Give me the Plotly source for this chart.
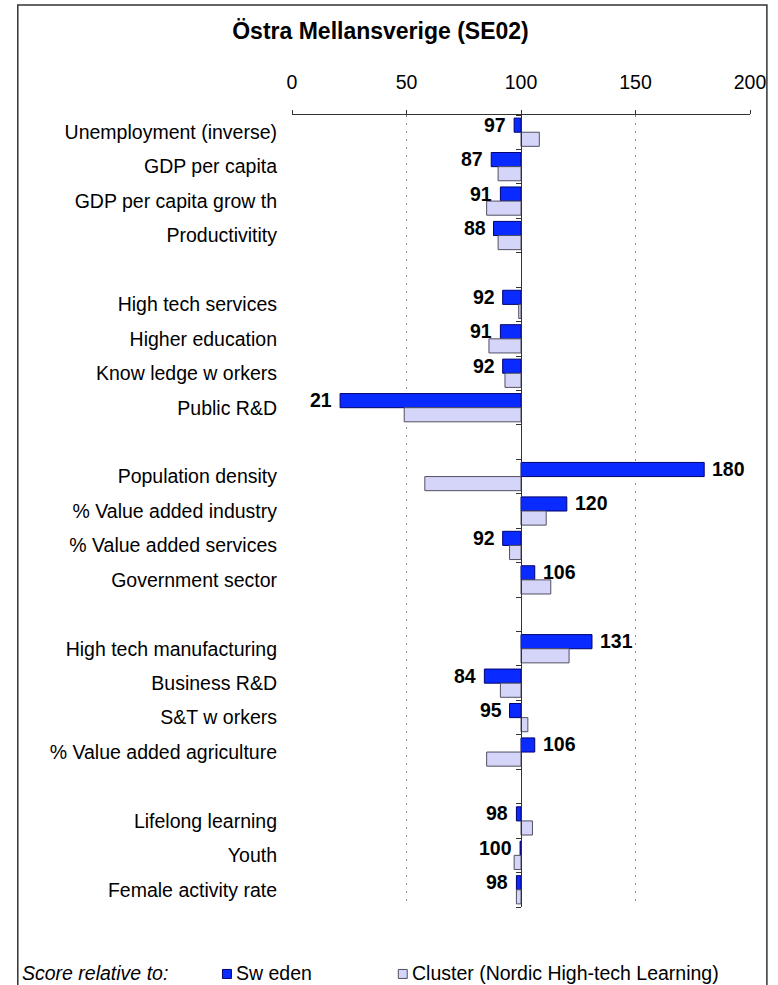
import plotly.graph_objects as go

# ---------------- data ----------------
title_text = "Östra Mellansverige (SE02)"
groups = [
    ["Unemployment (inverse)", "GDP per capita", "GDP per capita grow th", "Productivitity"],
    ["High tech services", "Higher education", "Know ledge w orkers", "Public R&D"],
    ["Population density", "% Value added industry", "% Value added services", "Government sector"],
    ["High tech manufacturing", "Business R&D", "S&T w orkers", "% Value added agriculture"],
    ["Lifelong learning", "Youth", "Female activity rate"],
]
sweden = [97, 87, 91, 88,
          92, 91, 92, 21,
          180, 120, 92, 106,
          131, 84, 95, 106,
          98, 99.6, 98]
cluster = [108, 90, 85, 90,
           99, 86, 93, 49,
           58, 111, 95, 113,
           121, 91, 103, 85,
           105, 97, 98]
x_ticks = [0, 50, 100, 150, 200]
series_names = ["Sw eden", "Cluster (Nordic High-tech Learning)"]
legend_title = "Score relative to:"
baseline = 100

# ---------------- layout helpers ----------------
categories, positions = [], []
slot = 0
for gi, g in enumerate(groups):
    for name in g:
        categories.append(name)
        positions.append(slot)
        slot += 1
    if gi < len(groups) - 1:
        slot += 1  # empty separator slot
n_slots = slot
boundaries = [i - 0.5 for i in range(n_slots + 1)]

W, H = 778, 985
ml, mr, mt, mb = 292, 25, 115, 77.5
pw, ph = W - ml - mr, H - mt - mb

def px_x(px):
    return (px - ml) / pw

def px_y(py):
    return (H - mb - py) / ph

FONT = "Liberation Sans, Arial, sans-serif"
FS = 19.5
SWE_FILL, SWE_LINE = "#0A2BFF", "#000070"
CL_FILL, CL_LINE = "#D5D5FA", "#505062"

fig = go.Figure()
fig.add_trace(go.Bar(
    y=positions, x=[v - baseline for v in sweden], base=baseline,
    orientation="h", name=series_names[0],
    marker=dict(color=SWE_FILL, line=dict(color=SWE_LINE, width=1)),
    showlegend=False, hoverinfo="skip"))
fig.add_trace(go.Bar(
    y=positions, x=[v - baseline for v in cluster], base=baseline,
    orientation="h", name=series_names[1],
    marker=dict(color=CL_FILL, line=dict(color=CL_LINE, width=1)),
    showlegend=False, hoverinfo="skip"))
# invisible trace to carry the centre axis (yaxis2)
fig.add_trace(go.Scatter(x=[baseline], y=[positions[0]], yaxis="y2",
                         mode="markers", marker=dict(opacity=0),
                         showlegend=False, hoverinfo="skip"))

# data labels for Sweden
annotations = []
for p, v in zip(positions, sweden):
    left = v < baseline
    annotations.append(dict(
        x=v, y=p - 0.22, xref="x", yref="y", text=f"<b>{round(v)}</b>",
        showarrow=False, xanchor="right" if left else "left",
        xshift=-6 if left else 6, yanchor="middle",
        font=dict(family=FONT, size=FS, color="black")))

# legend (custom)
leg_y = 974
annotations.append(dict(x=px_x(18), y=px_y(leg_y), xref="paper", yref="paper",
                        text=f"<i>{legend_title}</i>", showarrow=False,
                        xanchor="left", yanchor="middle",
                        font=dict(family=FONT, size=FS, color="black")))
annotations.append(dict(x=px_x(234), y=px_y(leg_y), xref="paper", yref="paper",
                        text=series_names[0], showarrow=False,
                        xanchor="left", yanchor="middle",
                        font=dict(family=FONT, size=FS, color="black")))
annotations.append(dict(x=px_x(411), y=px_y(leg_y), xref="paper", yref="paper",
                        text=series_names[1], showarrow=False,
                        xanchor="left", yanchor="middle",
                        font=dict(family=FONT, size=FS, color="black")))

shapes = [
    # outer frame
    dict(type="rect", xref="paper", yref="paper",
         x0=px_x(16), x1=px_x(770), y0=px_y(H + 20), y1=px_y(5),
         line=dict(color="#333333", width=1.5), fillcolor="rgba(0,0,0,0)", layer="below"),
    # legend markers
    dict(type="rect", xref="paper", yref="paper",
         x0=px_x(222), x1=px_x(231), y0=px_y(leg_y + 5), y1=px_y(leg_y - 4),
         line=dict(color=SWE_LINE, width=1), fillcolor=SWE_FILL),
    dict(type="rect", xref="paper", yref="paper",
         x0=px_x(399), x1=px_x(408), y0=px_y(leg_y + 5), y1=px_y(leg_y - 4),
         line=dict(color=CL_LINE, width=1), fillcolor=CL_FILL),
]

fig.update_layout(
    width=W, height=H,
    margin=dict(l=ml, r=mr, t=mt, b=mb, pad=0),
    paper_bgcolor="white", plot_bgcolor="white",
    barmode="group", bargap=0.18, bargroupgap=0,
    title=dict(text=f"<b>{title_text}</b>", x=380.5 / W, xanchor="center",
               y=1 - 31 / H, yanchor="middle", xref="container",
               font=dict(family=FONT, size=23, color="black")),
    xaxis=dict(range=[0, 200], side="top", tickvals=x_ticks,
               ticktext=[str(t) for t in x_ticks],
               ticks="outside", ticklen=4, tickcolor="#333333",
               tickfont=dict(family=FONT, size=FS, color="black"),
               ticklabelstandoff=13,
               showline=True, linecolor="#333333", linewidth=1,
               showgrid=True, gridcolor="#8C8C8C", griddash="2px,6px", gridwidth=1,
               zeroline=False, fixedrange=True),
    yaxis=dict(range=[n_slots - 0.5, -0.5], tickvals=positions, ticktext=categories,
               ticks="", showline=False, showgrid=False, zeroline=False,
               tickfont=dict(family=FONT, size=FS, color="black"),
               ticklabelstandoff=14, fixedrange=True),
    yaxis2=dict(overlaying="y", anchor="free", position=0.5, side="left",
                range=[n_slots - 0.5, -0.5], tickvals=boundaries,
                showticklabels=False, ticks="outside", ticklen=5,
                tickcolor="#333333", showline=True, linecolor="#333333",
                linewidth=1, showgrid=False, zeroline=False, fixedrange=True),
    annotations=annotations,
    shapes=shapes,
)

fig.write_html("out.html")
